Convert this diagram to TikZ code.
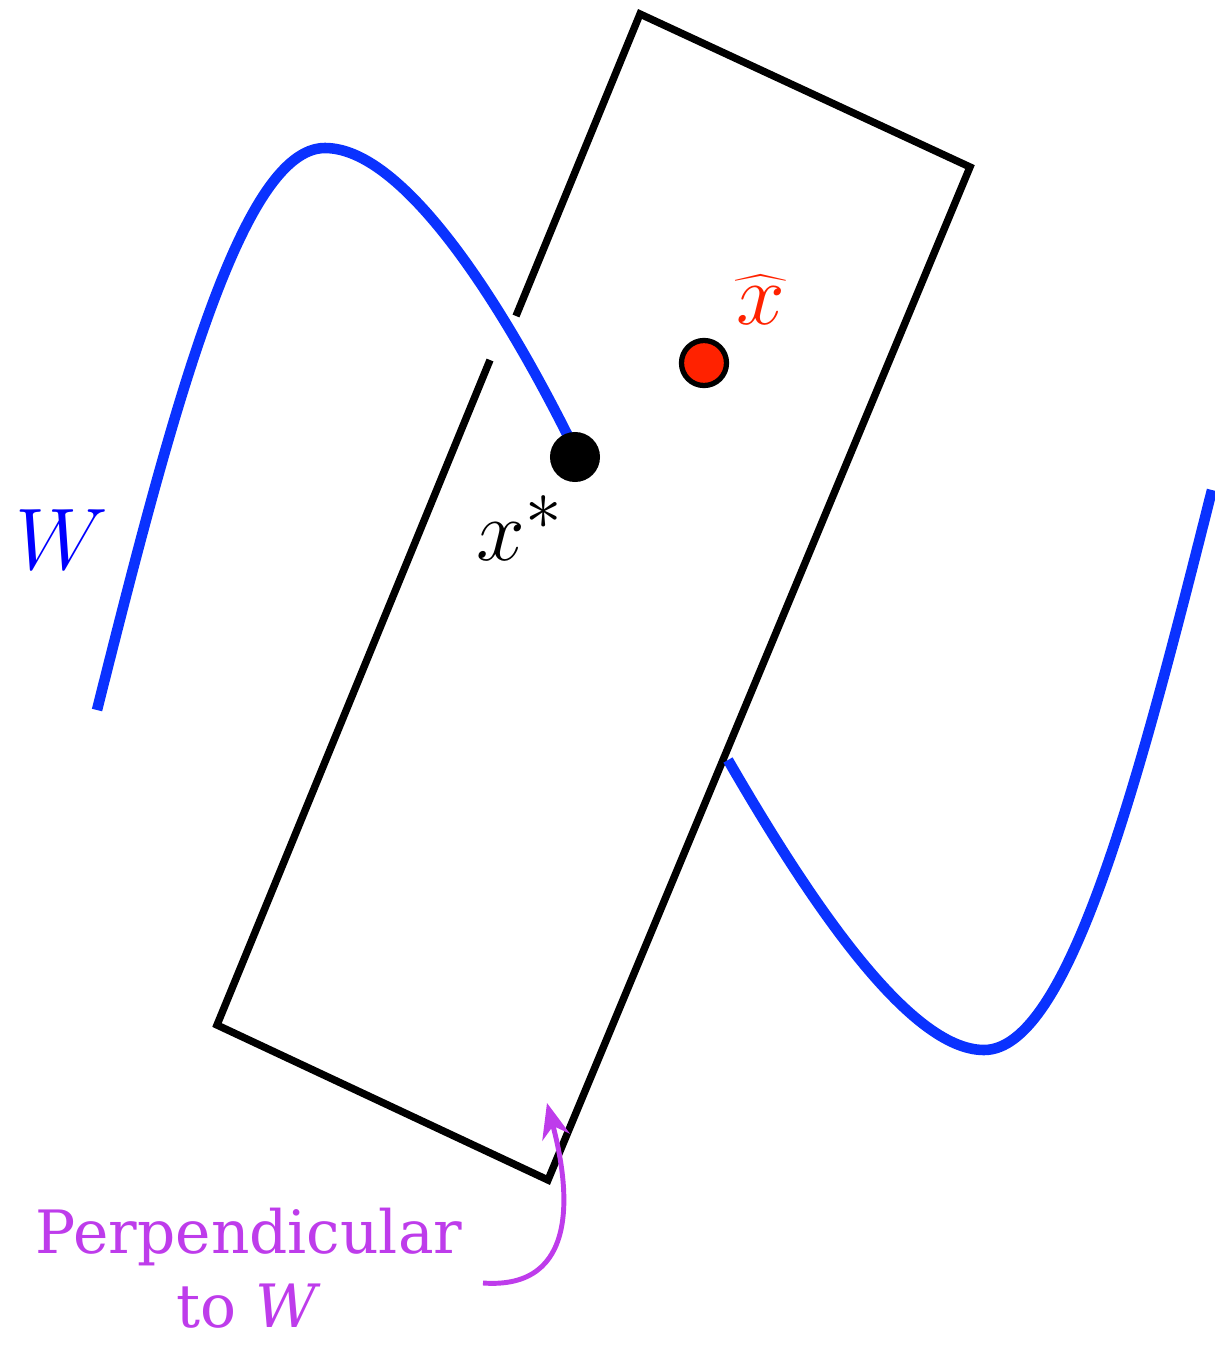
\documentclass[tikz,border=0pt]{standalone}
\usepackage{fontspec}
\newfontfamily\notefont{DejaVu Serif}
\usetikzlibrary{arrows.meta,positioning}
\definecolor{wblue}{RGB}{10,50,255}
\definecolor{hatred}{RGB}{255,34,0}
\definecolor{notepurple}{RGB}{190,60,235}
\tikzset{
  plane/.style={line width=2.1pt,line cap=butt},
  wcurve/.style={wblue,line width=3pt},
  note/.style={notepurple,font=\notefont\fontsize{17}{21}\selectfont,align=center},
}
\begin{document}
\begin{tikzpicture}[x=0.01cm,y=-0.01cm,every node/.style={inner sep=0pt}]
\useasboundingbox (0,0) rectangle (1214,1345);
% corners of the slab
\coordinate (c1) at (640,14);
\coordinate (c2) at (970,167);
\coordinate (c3) at (548,1180);
\coordinate (c4) at (217,1025);
\coordinate (g1) at (516,316);
\coordinate (g2) at (490,360);
\draw[plane] (g1)--(c1)--(c2)--(c3)--(c4)--(g2);
% the curve W
\draw[wcurve] (97,710) .. controls (170,420) and (240,148) .. (325,148)
  .. controls (400,148) and (495,290) .. (570,440);
\draw[wcurve] (728,760) .. controls (809,900) and (909,1050) .. (984,1050)
  .. controls (1069,1050) and (1139,780) .. (1212,490);
% points
\node[circle,fill=black,minimum size=0.5cm] (xstar) at (575,457) {};
\node[circle,fill=hatred,draw=black,line width=1.5pt,minimum size=0.45cm] (xhat) at (704,363) {};
\node[font=\fontsize{28}{30}\selectfont] (xstarlab) at (520,528) {$x^*$};
\node[hatred,font=\fontsize{28}{30}\selectfont] (xhatlab) at (761,300) {$\widehat{\,x\,}$};
\node[blue,font=\fontsize{26}{28}\selectfont] (wlab) at (62,540) {$W$};
% annotation
\node[note] (perp) at (249,1268) {Perpendicular\\to \textit{W}};
\coordinate (tail) at (483,1283);
\coordinate (tip) at (547,1103);
\draw[notepurple,line width=1.4pt,-{Stealth[length=10pt,width=8pt]}] (tail) .. controls (580,1290) and (570,1190) .. (tip);
\end{tikzpicture}
\end{document}
